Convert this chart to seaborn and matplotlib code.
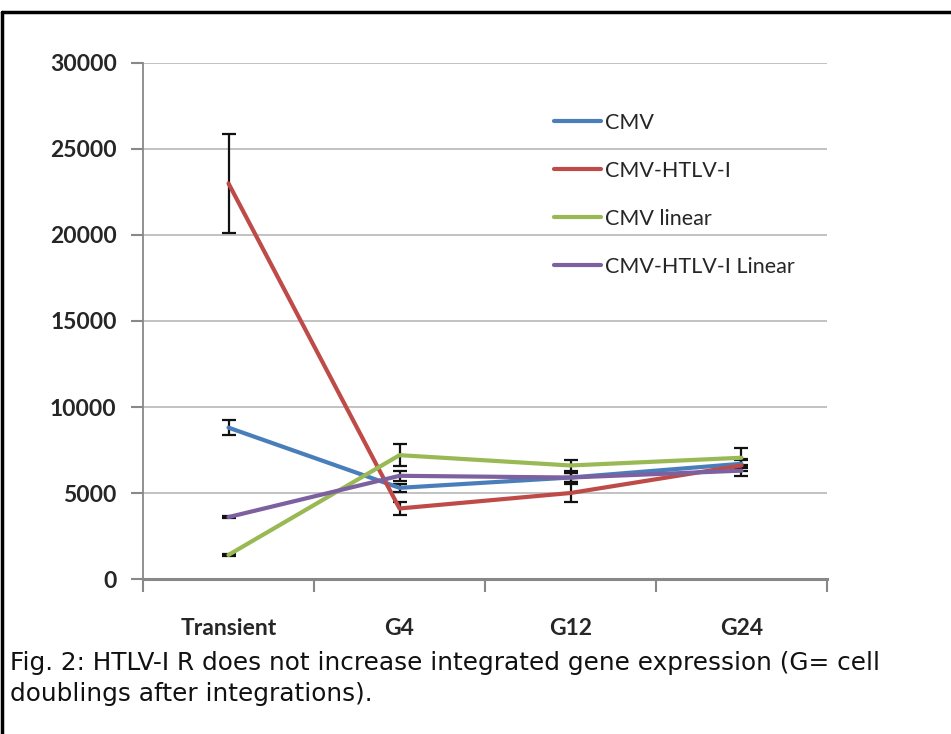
import matplotlib
matplotlib.use("Agg")
import matplotlib.pyplot as plt
import seaborn as sns
import pandas as pd
import numpy as np

categories = ["Transient", "G4", "G12", "G24"]
series_names = ["CMV", "CMV-HTLV-I", "CMV linear", "CMV-HTLV-I Linear"]
cmv = [8800, 5300, 5900, 6700]
cmv_htlv = [23000, 4100, 5000, 6600]
cmv_linear = [1400, 7200, 6600, 7050]
cmv_htlv_linear = [3600, 6000, 5900, 6300]
cmv_err = [450, 250, 250, 250]
cmv_htlv_err = [2900, 380, 520, 300]
cmv_linear_err = [60, 650, 320, 550]
cmv_htlv_linear_err = [60, 300, 250, 300]
yticks = [0, 5000, 10000, 15000, 20000, 25000, 30000]
caption_lines = ["Fig. 2: HTLV-I R does not increase integrated gene expression (G= cell",
                 "doublings after integrations)."]

colors = ["#4a7ebb", "#be4b48", "#98b954", "#7d60a0"]
values = [cmv, cmv_htlv, cmv_linear, cmv_htlv_linear]
errs = [cmv_err, cmv_htlv_err, cmv_linear_err, cmv_htlv_linear_err]

rows = []
for name, vals in zip(series_names, values):
    for i, (c, v) in enumerate(zip(categories, vals)):
        rows.append({"cat": c, "pos": i, "value": v, "series": name})
df = pd.DataFrame(rows)

sns.set_theme(style="white")
plt.rcParams["font.family"] = ["Lato", "DejaVu Sans"]

fig = plt.figure(figsize=(9.51, 7.34), dpi=100)
ax = fig.add_axes([143/951, (734-579)/734, (827-143)/951, (579-63)/734])

for name, vals, er in zip(series_names, values, errs):
    ax.errorbar(range(len(categories)), vals, yerr=er, fmt="none",
                ecolor="#111111", elinewidth=1.6, capsize=5, capthick=1.6, zorder=2)

sns.lineplot(data=df, x="pos", y="value", hue="series", hue_order=series_names,
             palette=colors, linewidth=3.0, ax=ax, sort=False, zorder=3)

ax.set_xlim(-0.5, 3.5)
ax.set_ylim(0, 30000)
ax.set_yticks(yticks)
ax.set_yticklabels([str(t) for t in yticks], fontsize=16.5, fontweight="bold")
ax.set_xticks(range(len(categories)))
ax.set_xticklabels(categories, fontsize=16.5, fontweight="bold")
ax.tick_params(axis="x", length=0, pad=28)
ax.tick_params(axis="y", length=9, width=1.5, color="#888888", pad=10, left=True)
ax.set_xticks(np.arange(-0.5, 4.0, 1.0), minor=True)
ax.tick_params(axis="x", which="minor", length=9, width=1.5, color="#888888", bottom=True, direction="out")
ax.set_xlabel("")
ax.set_ylabel("")
ax.grid(axis="y", color="#bdbdbd", linewidth=1.3)
ax.grid(axis="x", visible=False)
for s in ["top", "right"]:
    ax.spines[s].set_visible(False)
for s in ["left", "bottom"]:
    ax.spines[s].set_color("#888888")
ax.spines["left"].set_linewidth(1.3)
ax.spines["bottom"].set_linewidth(2.2)

handles, labels = ax.get_legend_handles_labels()
leg = ax.legend(handles, labels, loc="upper left", bbox_to_anchor=((545-143)/684, (579-104)/516),
                frameon=False, fontsize=15.5, handlelength=2.2, handletextpad=0.2,
                labelspacing=1.3, borderaxespad=0)
for ln in leg.get_lines():
    ln.set_linewidth(3.0)

for i, line in enumerate(caption_lines):
    fig.text(10/951, 1 - (663 + i*31)/734, line, fontsize=17.8, va="center", ha="left",
             family=["DejaVu Sans"], color="#111111")

fig.add_artist(plt.Line2D([2/951, 1], [1-12/734, 1-12/734], color="black", linewidth=2.5,
                          transform=fig.transFigure))
fig.add_artist(plt.Line2D([2/951, 2/951], [0, 1-12/734], color="black", linewidth=2.5,
                          transform=fig.transFigure))

fig.savefig("out.png", dpi=100)
